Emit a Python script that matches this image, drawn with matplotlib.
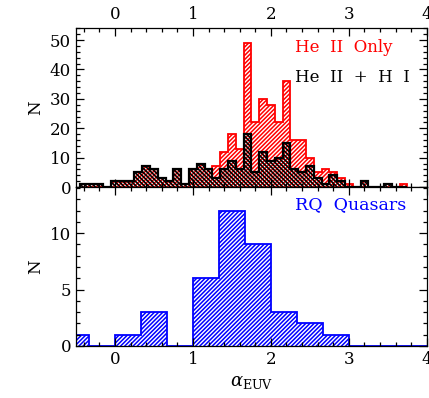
import numpy as np
import matplotlib
matplotlib.use('Agg')
import matplotlib.pyplot as plt
from matplotlib.ticker import MultipleLocator

# alpha_EUV histograms, 0.1 bins starting at -0.45
he2_hi = [1, 1, 1, 0, 2, 2, 2, 5, 7, 6, 3, 2, 6, 1, 6, 8, 6, 3, 6, 9, 6,
          18, 5, 12, 9, 10, 15, 6, 5, 7, 3, 1, 4, 2, 0, 0, 2, 0, 0, 1, 0, 0]
he2_only = [1, 1, 1, 0, 2, 2, 2, 5, 7, 6, 3, 2, 6, 1, 6, 8, 6, 7, 12, 18, 13,
            49, 22, 30, 28, 22, 36, 16, 16, 10, 5, 6, 5, 3, 1, 0, 2, 0, 0, 1, 0, 1]
# RQ quasars, 1/3 bins starting at -2/3
rq = [1, 0, 1, 3, 0, 6, 12, 9, 3, 2, 1, 0, 0, 0]

edges_top = -0.45 + 0.1 * np.arange(len(he2_only) + 1)
edges_bot = -2. / 3 + np.arange(len(rq) + 1) / 3.

plt.rcParams['font.family'] = 'DejaVu Serif'
plt.rcParams['mathtext.fontset'] = 'dejavuserif'

fig = plt.figure(figsize=(4.29, 3.98), dpi=100)
ax1 = fig.add_axes([0.177, 0.530, 0.818, 0.3996])
ax2 = fig.add_axes([0.177, 0.1307, 0.818, 0.3996])

with plt.rc_context({'hatch.linewidth': 1.1}):
    ax1.stairs(he2_only, edges_top, fill=True, facecolor='none', edgecolor='red',
               hatch='/' * 8, linewidth=1.3)
    ax2.stairs(rq, edges_bot, fill=True, facecolor='none', edgecolor='blue',
               hatch='/' * 8, linewidth=1.3)
# black one drawn on top, its hatch crosses the red one
with plt.rc_context({'hatch.linewidth': 1.2}):
    ax1.stairs(he2_hi, edges_top, fill=True, facecolor='none', edgecolor='black',
               hatch='\\' * 8, linewidth=1.6)

ax1.set_ylim(0, 54.1)
ax2.set_ylim(0, 14.1)
ax1.yaxis.set_major_locator(MultipleLocator(10))
ax1.yaxis.set_minor_locator(MultipleLocator(2))
ax2.yaxis.set_major_locator(MultipleLocator(5))
ax2.yaxis.set_minor_locator(MultipleLocator(1))

for ax in (ax1, ax2):
    ax.set_xlim(-0.5, 4)
    ax.xaxis.set_major_locator(MultipleLocator(1))
    ax.xaxis.set_minor_locator(MultipleLocator(0.2))
    ax.tick_params(which='both', direction='in', top=True, right=True,
                   labelsize=12, width=0.9)
    ax.tick_params(which='major', length=6)
    ax.tick_params(which='minor', length=3)
    ax.set_ylabel('N', fontsize=12)
    for s in ax.spines.values():
        s.set_linewidth(0.9)

ax1.tick_params(axis='x', labelbottom=False, labeltop=True)
ax2.set_xlabel(r'$\alpha_{\rm EUV}$', fontsize=13)

ax1.text(0.624, 0.88, 'He  II  Only', color='red', fontsize=12,
         transform=ax1.transAxes, va='center')
ax1.text(0.624, 0.69, 'He  II  +  H  I', color='black', fontsize=12,
         transform=ax1.transAxes, va='center')
ax2.text(0.624, 0.887, 'RQ  Quasars', color='blue', fontsize=12.5,
         transform=ax2.transAxes, va='center')

fig.savefig('out.png', dpi=100)
